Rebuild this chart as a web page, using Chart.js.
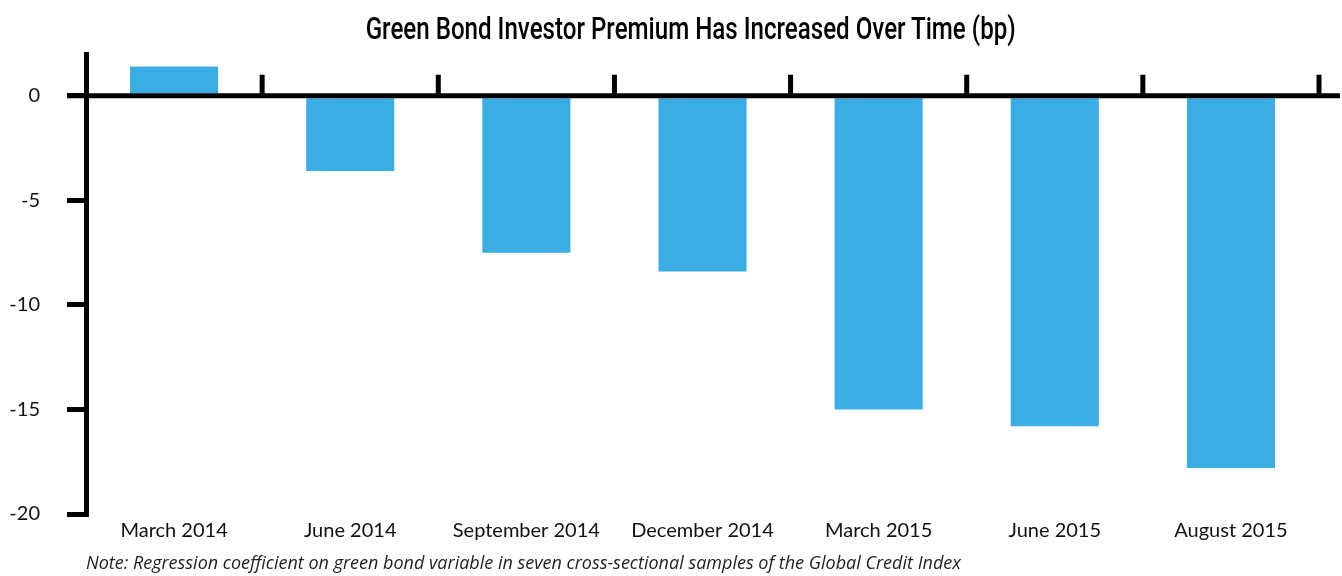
<!DOCTYPE html>
<html>
<head>
<meta charset="utf-8">
<script src="https://cdn.jsdelivr.net/npm/chart.js@4/dist/chart.umd.min.js"></script>
<style>
  html, body { margin: 0; padding: 0; background: #fff; }
  #chart-box { position: relative; width: 1342px; height: 576px; }
  #chart-title {
    position: absolute;
    top: 11px;
    left: 20px;
    width: 1342px;
    text-align: center;
    font-family: Roboto, sans-serif;
    font-weight: 500;
    font-size: 31px;
    line-height: 36px;
    color: #000;
    white-space: nowrap;
  }
  #chart-title span { display: inline-block; transform-origin: 50% 50%; }
</style>
</head>
<body>
<div id="chart-box">
  <div id="chart-title"><span id="title-text"></span></div>
  <canvas id="premium-canvas" width="1342" height="576"></canvas>
</div>
<script>
const categories = [
  "March 2014",
  "June 2014",
  "September 2014",
  "December 2014",
  "March 2015",
  "June 2015",
  "August 2015",
];
const premium_bp = [1.4, -3.6, -7.5, -8.4, -15.0, -15.8, -17.8];
const y_ticks = [0, -5, -10, -15, -20];
const y_min = -20;
const y_max = 2;
const chart_title = "Green Bond Investor Premium Has Increased Over Time (bp)";
const chart_note =
  "Note: Regression coefficient on green bond variable in seven cross-sectional samples of the Global Credit Index";

const bar_color = "#3aade2";
const label_font = "Lato, 'Open Sans', sans-serif";

// the original title is a narrow face, squeeze Roboto to the same width
const setTitle = () => {
  const title_span = document.getElementById("title-text");
  title_span.textContent = chart_title;
  const natural_width = title_span.getBoundingClientRect().width;
  title_span.style.transform = `scaleX(${650 / natural_width})`;
};

// x axis sits on zero, with small marks between the categories pointing up
const zeroAxis = {
  id: "zeroAxis",
  afterDatasetsDraw: (chart) => {
    const { ctx, width, scales: { x, y } } = chart;
    const zero = y.getPixelForValue(0);
    const step = x.width / categories.length;
    ctx.save();
    ctx.strokeStyle = "#000";
    ctx.lineWidth = 5;
    ctx.beginPath();
    ctx.moveTo(y.right - 19, zero);
    ctx.lineTo(width - 2, zero);
    for (let i = 1; i <= categories.length; i++) {
      const tick_x = x.left + step * i;
      ctx.moveTo(tick_x, zero);
      ctx.lineTo(tick_x, zero - 21);
    }
    ctx.stroke();
    ctx.restore();
  },
};

setTitle();

new Chart(document.getElementById("premium-canvas"), {
  type: "bar",
  data: {
    labels: categories,
    datasets: [
      {
        label: "Green bond premium (bp)",
        data: premium_bp,
        backgroundColor: bar_color,
        borderWidth: 0,
        barPercentage: 1,
        categoryPercentage: 0.5,
      },
    ],
  },
  plugins: [zeroAxis],
  options: {
    responsive: false,
    animation: false,
    layout: {
      padding: { left: 0, right: 23, top: 54, bottom: 0 },
    },
    plugins: {
      legend: { display: false },
      tooltip: { enabled: false },
      title: { display: false },
      subtitle: {
        display: true,
        text: chart_note,
        position: "bottom",
        align: "start",
        fullSize: false,
        color: "#222",
        font: {
          family: "'Open Sans', sans-serif",
          size: 18,
          style: "italic",
        },
        padding: { top: 0, bottom: 1 },
      },
    },
    scales: {
      x: {
        grid: { display: false, drawTicks: false },
        border: { display: false },
        ticks: {
          color: "#111",
          padding: 5,
          maxRotation: 0,
          font: { family: label_font, size: 20 },
        },
        afterFit: (scale) => {
          scale.height = 39.4;
        },
      },
      y: {
        min: y_min,
        max: y_max,
        afterBuildTicks: (scale) => {
          scale.ticks = y_ticks.map((value) => ({ value }));
        },
        afterFit: (scale) => {
          scale.width = 86;
        },
        border: { display: true, color: "#000", width: 5 },
        grid: {
          drawOnChartArea: false,
          drawTicks: true,
          tickLength: 19,
          lineWidth: 5,
          color: "#000",
        },
        ticks: {
          color: "#111",
          padding: 27,
          font: { family: label_font, size: 20 },
        },
      },
    },
  },
});
</script>
</body>
</html>
